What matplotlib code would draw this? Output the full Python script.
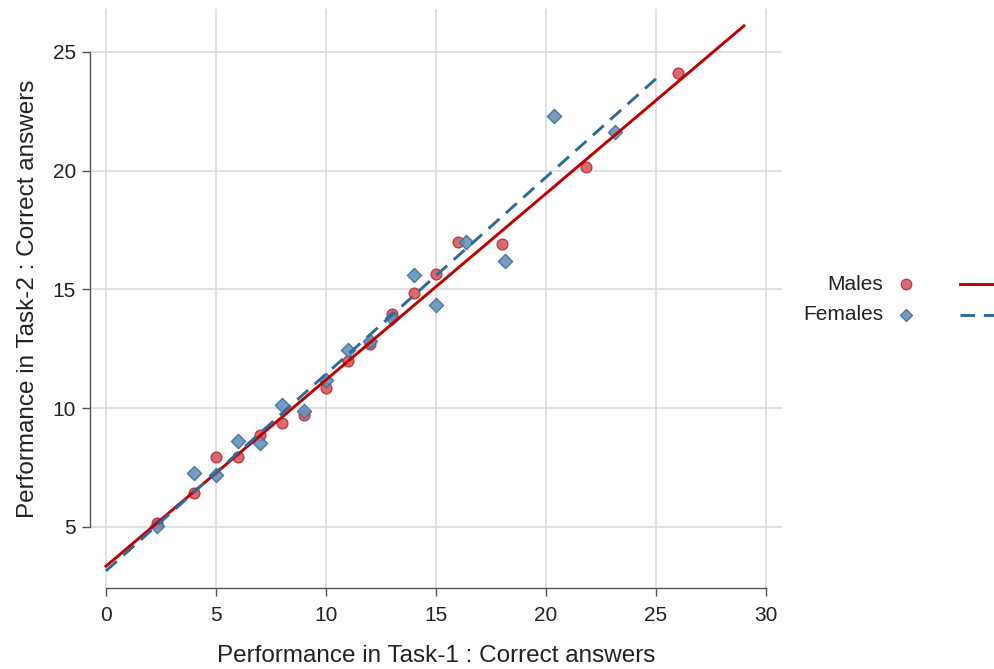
import matplotlib.pyplot as plt
from matplotlib.lines import Line2D

plt.rcParams['font.family'] = ['Liberation Sans', 'DejaVu Sans']

# scatter data
males_x = [2.3, 4, 5, 6, 7, 8, 9, 10, 11, 12, 13, 14, 15, 16, 18, 21.8, 26]
males_y = [5.17, 6.42, 7.96, 7.96, 8.87, 9.37, 9.71, 10.85, 11.97, 12.7,
           13.98, 14.84, 15.65, 17.0, 16.9, 20.15, 24.12]
females_x = [2.3, 4, 5, 6, 7, 8, 9, 10, 11, 12, 13, 14, 15, 16.35, 18.15, 20.35, 23.15]
females_y = [5.06, 7.27, 7.17, 8.63, 8.53, 10.14, 9.9, 11.2, 12.47, 12.85,
             13.8, 15.61, 14.34, 16.99, 16.22, 22.32, 21.62]

# fitted lines (end points)
males_fit_x = [0, 29]
males_fit_y = [3.35, 26.1]
females_fit_x = [0, 25]
females_fit_y = [3.15, 23.87]

xticks = [0, 5, 10, 15, 20, 25, 30]
yticks = [5, 10, 15, 20, 25]

red = '#C00000'
red_fill = '#D65A60'
blue = '#2F6A98'
blue_fill = '#6791B8'

fig = plt.figure(figsize=(9.95, 6.69), dpi=100)
ax = fig.add_axes([90/995, 1-588/669, (782-90)/995, (588-9)/669])

ax.scatter(males_x, males_y, s=60, marker='o', facecolor=red_fill,
           edgecolor='#B8323A', linewidth=1.0, alpha=0.9, zorder=3)
ax.scatter(females_x, females_y, s=52, marker='D', facecolor=blue_fill,
           edgecolor='#3E6F99', linewidth=1.0, alpha=0.9, zorder=3)
ax.plot(males_fit_x, males_fit_y, color=red, lw=2.1, zorder=4)
ax.plot(females_fit_x, females_fit_y, color=blue, lw=2.1,
        dashes=(5, 3), zorder=4)

ax.set_xlim(-0.727, 30.73)
ax.set_ylim(2.43, 26.81)
ax.set_xticks(xticks)
ax.set_yticks(yticks)
ax.grid(True, color='#DCDCDC', lw=1.2)
ax.set_axisbelow(True)

for s in ['top', 'right']:
    ax.spines[s].set_visible(False)
ax.spines['left'].set_bounds(5, 25)
ax.spines['bottom'].set_bounds(0, 30)
for s in ['left', 'bottom']:
    ax.spines[s].set_color('#555555')
    ax.spines[s].set_linewidth(1.0)
ax.tick_params(axis='both', length=6, width=1.0, color='#555555',
               labelsize=15, labelcolor='#222222')
ax.tick_params(axis='x', pad=7)
ax.tick_params(axis='y', pad=4)

ax.set_xlabel('Performance in Task-1 : Correct answers', fontsize=17.5,
              color='#222222', labelpad=14)
ax.set_ylabel('Performance in Task-2 : Correct answers', fontsize=17.5,
              color='#222222', labelpad=10)

# legend on the right
fig.text(883/995, 1-284/669, 'Males', ha='right', va='center',
         fontsize=15, color='#222222')
fig.text(883/995, 1-315/669, 'Females', ha='right', va='center',
         fontsize=15, color='#222222')
fig.add_artist(Line2D([905.7/995], [1-284/669], marker='o', ms=7.5,
                      mfc=red_fill, mec='#B8323A', mew=1.0, alpha=0.9,
                      transform=fig.transFigure))
fig.add_artist(Line2D([905.7/995], [1-315/669], marker='D', ms=6.5,
                      mfc=blue_fill, mec='#3E6F99', mew=1.0, alpha=0.9,
                      transform=fig.transFigure))
fig.add_artist(Line2D([960/995, 1.0], [1-284/669, 1-284/669], color=red,
                      lw=2.1, transform=fig.transFigure))
fig.add_artist(Line2D([960/995, 1.0], [1-315/669, 1-315/669], color=blue,
                      lw=2.1, dashes=(5, 3), transform=fig.transFigure))

fig.savefig('out.png', dpi=100)
